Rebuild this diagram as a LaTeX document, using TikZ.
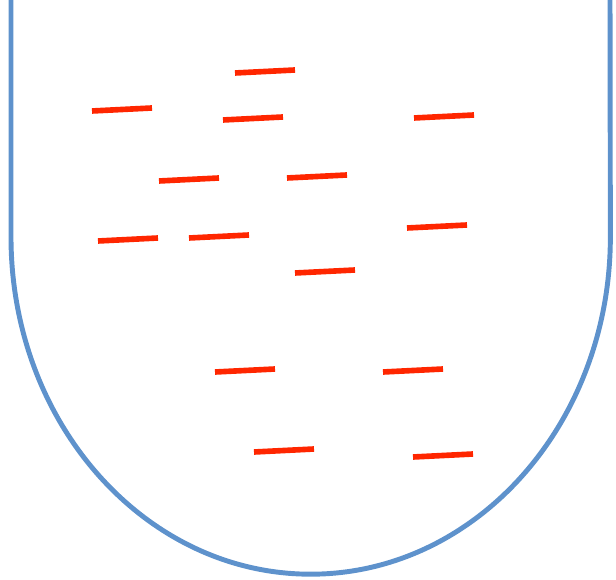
\documentclass[tikz,border=0pt]{standalone}

\definecolor{tubeblue}{RGB}{94,146,204}
\definecolor{rodred}{RGB}{255,38,0}

\tikzset{
  tube/.style={draw=tubeblue, line width=1.4pt},
  rod/.style={draw=rodred, line width=1.6pt}
}

\newcommand{\TubeFrame}{%
  \draw[tube] (11,0) -- (11,237)
    arc[start angle=180, end angle=360, x radius=2.995cm, y radius=3.37cm]
    -- (610,0);
}

\begin{document}
\begin{tikzpicture}[x=0.01cm, y=-0.01cm]
  \useasboundingbox (0,0) rectangle (616,580);
  \TubeFrame
  % short rods: left end (x,y), right end is 60 to the right, a bit higher
  \foreach \x/\y in {235/73, 92/111, 223/120, 414/118,
                     159/181, 287/178, 98/241, 189/238,
                     407/228, 295/273, 215/372, 383/372,
                     254/452, 413/457}
    \draw[rod] (\x,\y) -- ++(60,-3);
\end{tikzpicture}
\end{document}
